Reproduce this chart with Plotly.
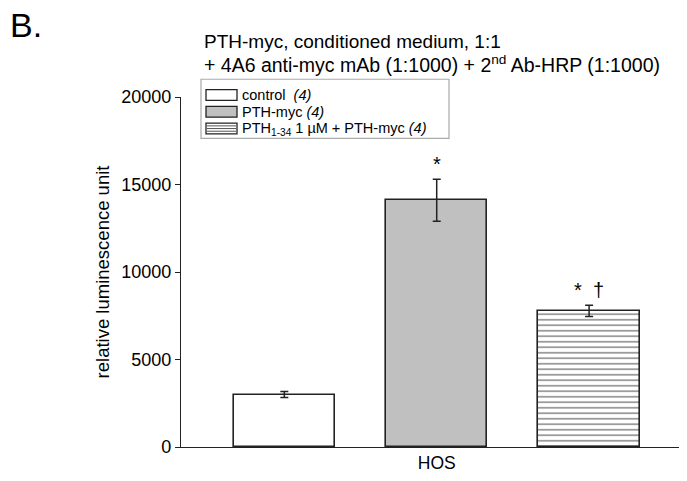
import plotly.graph_objects as go

# ---- data ----
groups = ["control", "PTH-myc", "PTH1-34 1 µM + PTH-myc"]
legend_labels = ["control  <i>(4)</i>", "PTH-myc <i>(4)</i>",
                 "PTH<sub>1-34</sub> 1 µM + PTH-myc <i>(4)</i>"]
x_pos = [0, 1, 2]
means = [3000, 14100, 7780]
sems = [170, 1200, 320]
marks = ["", "*", "*  †"]
category_label = ["HOS"]
y_ticks = [0, 5000, 10000, 15000, 20000]
y_ticktext = ["0", "5000", "10000", "15000", "20000"]

fills = ["white", "#c0c0c0", "white"]
patterns = [None, None, dict(shape="-", fgcolor="#222222", bgcolor="white", size=5.5, solidity=0.3)]

FONT = "Liberation Sans, Arial, sans-serif"

# plot area in pixels
W, H = 687, 481
L, R, T, B = 181, 8, 97, 29

fig = go.Figure()
for i in range(3):
    kw = dict(marker=dict(color=fills[i], line=dict(color="#222222", width=1.6)))
    if patterns[i]:
        kw["marker"]["pattern"] = patterns[i]
    fig.add_trace(go.Bar(
        x=[x_pos[i]], y=[means[i]], width=0.665, name=groups[i],
        error_y=dict(type="data", array=[sems[i]], color="#222222", thickness=1.5, width=4),
        showlegend=False, **kw))
    if marks[i]:
        fig.add_annotation(x=x_pos[i], y=means[i] + sems[i], text=marks[i],
                           showarrow=False, yanchor="bottom", yshift=2,
                           font=dict(size=20, color="black", family=FONT))

# manual legend (paper coordinates computed from pixels)
pw, ph = W - L - R, H - T - B
def px(x): return (x - L) / pw
def py(y): return (H - B - y) / ph

fig.add_shape(type="rect", xref="paper", yref="paper",
              x0=px(201), x1=px(449), y0=py(79), y1=py(139),
              line=dict(color="#aaaaaa", width=1.2), fillcolor="white", layer="above")
rows_y = [95, 112, 129]
for i in range(3):
    yc = rows_y[i]
    fig.add_shape(type="rect", xref="paper", yref="paper",
                  x0=px(206), x1=px(237), y0=py(yc + 5.5), y1=py(yc - 5.5),
                  line=dict(color="#222222", width=1.3), fillcolor=fills[i], layer="above")
    if patterns[i]:
        for k in (-2.7, 0, 2.7):
            fig.add_shape(type="line", xref="paper", yref="paper",
                          x0=px(207), x1=px(236), y0=py(yc + k), y1=py(yc + k),
                          line=dict(color="#555555", width=1), layer="above")
    fig.add_annotation(xref="paper", yref="paper", x=px(240), y=py(yc),
                       xanchor="left", yanchor="middle", text=legend_labels[i],
                       showarrow=False, font=dict(size=14.5, color="black", family=FONT))

# titles
fig.add_annotation(xref="paper", yref="paper", x=px(202), y=py(41), xanchor="left",
                   yanchor="middle", showarrow=False,
                   text="PTH-myc, conditioned medium, 1:1", font=dict(size=19, color="black", family=FONT))
fig.add_annotation(xref="paper", yref="paper", x=px(202), y=py(64), xanchor="left",
                   yanchor="middle", showarrow=False,
                   text="+ 4A6 anti-myc mAb (1:1000) + 2<sup>nd</sup> Ab-HRP (1:1000)",
                   font=dict(size=19.5, color="black", family=FONT))
fig.add_annotation(xref="paper", yref="paper", x=px(8), y=py(24), xanchor="left",
                   yanchor="middle", showarrow=False, text="B.",
                   font=dict(size=34, color="black", family=FONT))

fig.update_layout(
    width=W, height=H, margin=dict(l=L, r=R, t=T, b=B),
    plot_bgcolor="white", paper_bgcolor="white",
    font=dict(family=FONT, size=17, color="black"),
    bargap=0,
    xaxis=dict(range=[-0.678, 2.59], tickvals=[1], ticktext=category_label, ticks="",
               showline=True, linecolor="#222222", linewidth=1.3, showgrid=False,
               zeroline=False, tickfont=dict(size=17.5)),
    yaxis=dict(range=[0, 20000], tickvals=y_ticks, ticktext=y_ticktext, ticks="outside", ticklen=5,
               tickcolor="#222222", showline=True, linecolor="#222222", linewidth=1.3,
               showgrid=False, zeroline=False, tickfont=dict(size=18),
               title=dict(text="relative luminescence unit", font=dict(size=18.5), standoff=6)),
)

fig.write_html("out.html")
